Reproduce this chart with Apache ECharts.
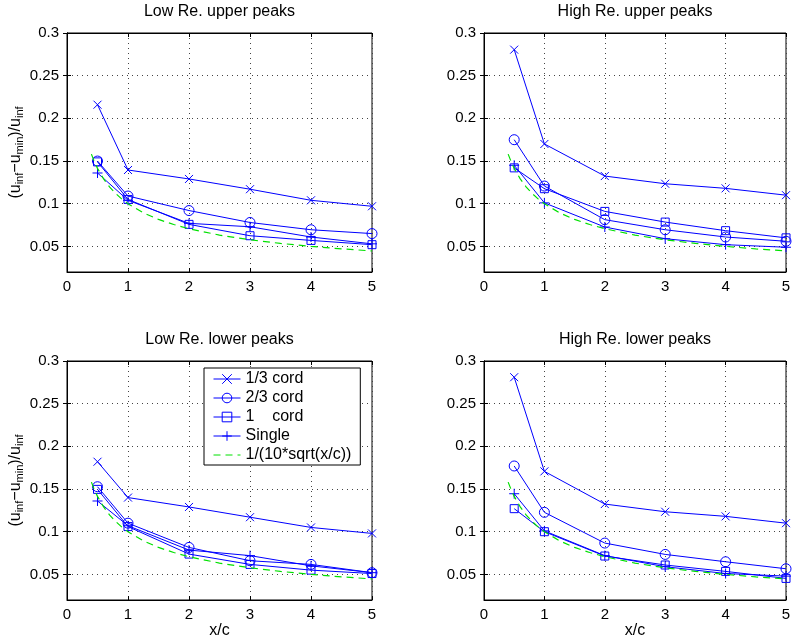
<!DOCTYPE html>
<html><head><meta charset="utf-8">
<script src="https://cdn.jsdelivr.net/npm/echarts@6/dist/echarts.min.js"></script>
<style>html,body{margin:0;padding:0;background:#fff}#c{width:794px;height:641px}</style>
</head><body><div id="c"></div><script>
const xValues = [0.5, 1, 2, 3, 4, 5];
const panelTitles = ['Low Re. upper peaks', 'High Re. upper peaks', 'Low Re. lower peaks', 'High Re. lower peaks'];
const seriesNames = ['1/3 cord', '2/3 cord', '1    cord', 'Single', '1/(10*sqrt(x/c))'];
const xTicks = [0, 1, 2, 3, 4, 5];
const yTicks = [0.05, 0.1, 0.15, 0.2, 0.25, 0.3];

const lowUpperThird    = [0.216, 0.1395, 0.129, 0.117, 0.104, 0.097];
const lowUpperTwoThird = [0.150, 0.109, 0.092, 0.078, 0.0695, 0.065];
const lowUpperOne      = [0.149, 0.105, 0.0758, 0.0625, 0.057, 0.052];
const lowUpperSingle   = [0.136, 0.104, 0.077, 0.073, 0.061, 0.053];

const highUpperThird    = [0.2805, 0.170, 0.1324, 0.1234, 0.118, 0.110];
const highUpperTwoThird = [0.175, 0.1207, 0.0813, 0.0695, 0.061, 0.056];
const highUpperOne      = [0.142, 0.1176, 0.091, 0.0785, 0.0684, 0.060];
const highUpperSingle   = [0.145, 0.101, 0.0727, 0.059, 0.052, 0.049];

const lowLowerThird    = [0.182, 0.140, 0.129, 0.117, 0.105, 0.098];
const lowLowerTwoThird = [0.1527, 0.110, 0.0816, 0.066, 0.0617, 0.052];
const lowLowerOne      = [0.1496, 0.106, 0.0738, 0.0617, 0.055, 0.051];
const lowLowerSingle   = [0.136, 0.107, 0.0785, 0.072, 0.060, 0.052];

const highLowerThird    = [0.281, 0.1707, 0.1324, 0.1234, 0.118, 0.110];
const highLowerTwoThird = [0.177, 0.1227, 0.0867, 0.0734, 0.0648, 0.0566];
const highLowerOne      = [0.127, 0.100, 0.0715, 0.061, 0.0535, 0.0453];
const highLowerSingle   = [0.1445, 0.101, 0.072, 0.059, 0.051, 0.048];

const refX = [0.4, 0.45, 0.5, 0.6, 0.7, 0.8, 0.9, 1, 1.25, 1.5, 1.75, 2, 2.5, 3, 3.5, 4, 4.5, 5];
const refY = [0.1581, 0.1491, 0.1414, 0.1291, 0.1195, 0.1118, 0.1054, 0.1, 0.0894, 0.0816, 0.0756, 0.0707, 0.0632, 0.0577, 0.0535, 0.05, 0.0471, 0.0447];

const panels = [
  [lowUpperThird, lowUpperTwoThird, lowUpperOne, lowUpperSingle],
  [highUpperThird, highUpperTwoThird, highUpperOne, highUpperSingle],
  [lowLowerThird, lowLowerTwoThird, lowLowerOne, lowLowerSingle],
  [highLowerThird, highLowerTwoThird, highLowerOne, highLowerSingle]
];

const FONT = '"Liberation Sans", Arial, Helvetica, sans-serif';
const BLUE = '#0000ff';
const GREEN = '#00e000';
const grids = [
  {left: 67, top: 33, width: 305, height: 239},
  {left: 484, top: 33, width: 302, height: 239},
  {left: 67, top: 361, width: 305, height: 239},
  {left: 484, top: 361, width: 302, height: 239}
];
const symbols = [
  {symbol: 'path://M0,0L10,10M10,0L0,10', size: 8},
  {symbol: 'circle', size: 10},
  {symbol: 'rect', size: 8},
  {symbol: 'path://M5,0L5,10M0,5L10,5', size: 10}
];

const xAxes = [], yAxes = [], series = [], titles = [];
grids.forEach((g, i) => {
  g.show = true; g.borderColor = '#000'; g.borderWidth = 1; g.containLabel = false;
  titles.push({text: panelTitles[i], left: g.left + g.width / 2, top: i < 2 ? 4 : 332, textAlign: 'center', padding: 0,
    textStyle: {fontFamily: FONT, fontSize: 16, fontWeight: 'normal', color: '#000'}});
  const bottom = i >= 2;
  const leftCol = i % 2 === 0;
  xAxes.push({gridIndex: i, type: 'value', min: 0, max: 5, interval: 1, position: 'bottom',
    name: bottom ? 'x/c' : '', nameLocation: 'middle', nameGap: 22,
    nameTextStyle: {fontFamily: FONT, fontSize: 16, color: '#000'},
    axisLine: {show: true, lineStyle: {color: '#000', width: 1}},
    axisTick: {show: true, inside: true, length: 4, lineStyle: {color: '#000'}},
    axisLabel: {fontFamily: FONT, fontSize: 15, color: '#000', margin: 7},
    splitLine: {show: true, lineStyle: {color: '#444', type: [1, 4], width: 1}}});
  xAxes.push({gridIndex: i, type: 'value', min: 0, max: 5, interval: 1, position: 'top',
    axisLine: {show: true, lineStyle: {color: '#000', width: 1}},
    axisTick: {show: true, inside: true, length: 4, lineStyle: {color: '#000'}},
    axisLabel: {show: false}, splitLine: {show: false}});
  yAxes.push({gridIndex: i, type: 'value', min: 0.02, max: 0.3, position: 'left',
    name: leftCol ? '{p|(u}{s|inf}{p|\u2212u}{s|min}{p|)/u}{s|inf}' : '',
    nameLocation: 'middle', nameGap: 38, nameRotate: 90,
    nameTextStyle: {fontFamily: FONT, color: '#000', rich: {
      p: {fontFamily: FONT, fontSize: 16, lineHeight: 20, color: '#000', verticalAlign: 'middle'},
      s: {fontFamily: FONT, fontSize: 11, lineHeight: 11, color: '#000', verticalAlign: 'bottom'}}},
    axisLine: {show: true, lineStyle: {color: '#000', width: 1}},
    axisTick: {show: true, inside: true, length: 4, customValues: yTicks, lineStyle: {color: '#000'}},
    axisLabel: {fontFamily: FONT, fontSize: 15, color: '#000', margin: 8, customValues: yTicks,
      formatter: v => String(+v.toFixed(2))},
    splitLine: {show: true, lineStyle: {color: '#444', type: [1, 4], width: 1}}});
  yAxes.push({gridIndex: i, type: 'value', min: 0.02, max: 0.3, position: 'right',
    axisLine: {show: true, lineStyle: {color: '#000', width: 1}},
    axisTick: {show: true, inside: true, length: 4, customValues: yTicks, lineStyle: {color: '#000'}},
    axisLabel: {show: false, customValues: yTicks}, splitLine: {show: false}});
  panels[i].forEach((vals, k) => {
    series.push({type: 'line', name: seriesNames[k], xAxisIndex: 2 * i, yAxisIndex: 2 * i,
      data: xValues.map((x, j) => [x, vals[j]]),
      symbol: symbols[k].symbol, symbolSize: symbols[k].size, showSymbol: true,
      itemStyle: {color: 'transparent', borderColor: BLUE, borderWidth: 1},
      lineStyle: {color: BLUE, width: 1}, animation: false, z: 3});
  });
  series.push({type: 'line', name: seriesNames[4], xAxisIndex: 2 * i, yAxisIndex: 2 * i,
    data: refX.map((x, j) => [x, refY[j]]), symbol: 'none', smooth: false,
    itemStyle: {color: 'transparent', borderColor: 'transparent', borderWidth: 0},
    lineStyle: {color: GREEN, width: 1.2, type: [7, 5]}, animation: false, z: 4});
});

const chart = echarts.init(document.getElementById('c'), null, {renderer: 'canvas'});
chart.setOption({
  animation: false,
  backgroundColor: '#fff',
  title: titles,
  grid: grids,
  xAxis: xAxes,
  yAxis: yAxes,
  legend: {show: true, orient: 'vertical', left: 204, top: 368, data: seriesNames,
    backgroundColor: '#fff', borderColor: '#000', borderWidth: 1, padding: [3, 9, 2, 9],
    itemWidth: 27, itemHeight: 12, itemGap: 3, itemTextGap: 9, selectedMode: false,
    lineStyle: {width: 1},
    itemStyle: {borderWidth: 1},
    textStyle: {fontFamily: FONT, fontSize: 16, color: '#000', lineHeight: 16}},
  series: series
});
</script></body></html>
